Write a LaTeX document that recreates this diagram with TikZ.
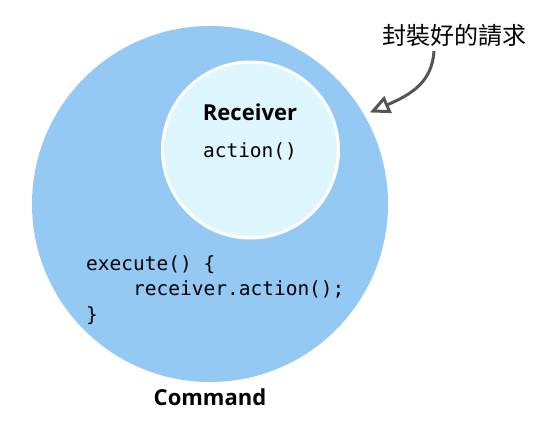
\documentclass[tikz,border=0pt]{standalone}
\usepackage{fontspec}
\setmainfont{Open Sans}
\setmonofont{DejaVu Sans Mono}
\newfontfamily\cjk{Noto Sans CJK TC}
\usetikzlibrary{arrows.meta}
\definecolor{cmdblue}{HTML}{94C9F4}
\definecolor{rcvblue}{HTML}{DEF7FE}
\definecolor{arrowgray}{HTML}{555555}
\tikzset{
  title/.style={font=\bfseries\fontsize{22}{26}\selectfont, inner sep=0pt},
  code/.style={font=\ttfamily\fontsize{19.5}{24}\selectfont, inner sep=0pt},
  callout/.style={draw=arrowgray, line width=3pt,
    -{Triangle[open, length=20pt, width=18pt, fill=white]}}
}
\begin{document}
\begin{tikzpicture}[x=1pt,y=-1pt]
\useasboundingbox (0,0) rectangle (550,432);
\node[circle, fill=cmdblue, minimum size=356pt, inner sep=0pt] (cmd) at (210,204) {};
\node[circle, fill=rcvblue, draw=white, line width=3pt, minimum size=176pt, inner sep=0pt] (rcv) at (250.5,150) {};
\node[title, anchor=base] (rcvlabel) at (250,120) {Receiver};
\node[code, anchor=base] (act) at (250,157) {action()};
\node[code, anchor=base west] (code1) at (86,270) {execute() \{};
\node[code, anchor=base west] (code2) at (86,295.5) {\phantom{xxxx}receiver.action();};
\node[code, anchor=base west] (code3) at (86,321) {\}};
\node[title, anchor=base] (cmdlabel) at (210,405) {Command};
\node[font=\cjk\fontsize{24}{28}\selectfont, inner sep=0pt] (note) at (454,35) {封裝好的請求};
\coordinate (tail) at (434,51);
\draw[callout, shorten >=6pt] (tail) .. controls (432,82) and (412,94) .. (cmd.30);
\end{tikzpicture}
\end{document}
